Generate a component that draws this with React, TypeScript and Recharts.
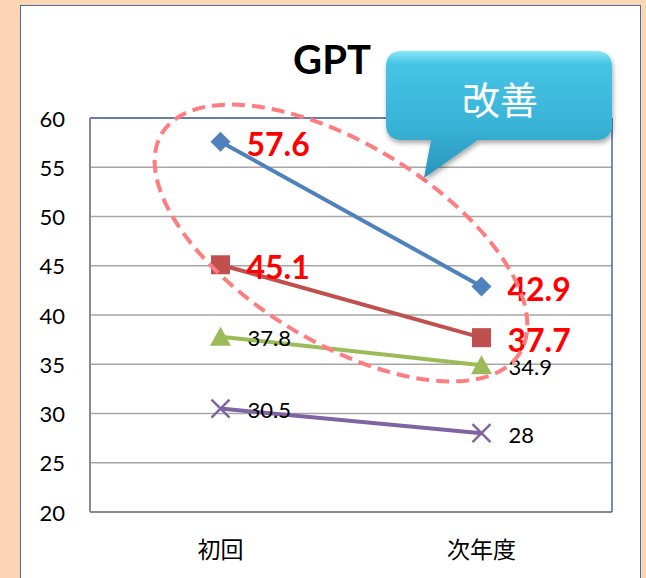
import React from 'react';
import { LineChart, Line, XAxis, YAxis, CartesianGrid, ReferenceLine, LabelList } from 'recharts';

const categories = ['初回', '次年度'];
const seriesBlue = [57.6, 42.9];
const seriesRed = [45.1, 37.7];
const seriesGreen = [37.8, 34.9];
const seriesPurple = [30.5, 28];
const yTicks = [20, 25, 30, 35, 40, 45, 50, 55, 60];
const titleText = 'GPT';
const calloutText = '改善';

const data = categories.map((c, i) => ({
  name: c,
  blue: seriesBlue[i],
  red: seriesRed[i],
  green: seriesGreen[i],
  purple: seriesPurple[i],
}));

const NUM_FONT = 'Lato, "Open Sans", sans-serif';
const CJK_FONT = '"Noto Sans CJK JP", "Noto Sans", sans-serif';

const C_BLUE = '#4F81BD';
const C_RED = '#C0504D';
const C_GREEN = '#9BBB59';
const C_PURPLE = '#8064A2';

const Diamond = (p: any) => {
  const { cx, cy } = p;
  if (cx == null || cy == null) return null;
  const h = 10;
  return <polygon key={`d${p.index}`} points={`${cx},${cy - h} ${cx + h},${cy} ${cx},${cy + h} ${cx - h},${cy}`} fill={C_BLUE} />;
};
const Square = (p: any) => {
  const { cx, cy } = p;
  if (cx == null || cy == null) return null;
  const h = 9.5;
  return <rect key={`s${p.index}`} x={cx - h} y={cy - h} width={h * 2} height={h * 2} fill={C_RED} />;
};
const Triangle = (p: any) => {
  const { cx, cy } = p;
  if (cx == null || cy == null) return null;
  return <polygon key={`t${p.index}`} points={`${cx},${cy - 10} ${cx + 10.5},${cy + 9} ${cx - 10.5},${cy + 9}`} fill={C_GREEN} />;
};
const Cross = (p: any) => {
  const { cx, cy } = p;
  if (cx == null || cy == null) return null;
  const h = 9;
  return (
    <g key={`x${p.index}`} stroke={C_PURPLE} strokeWidth={2.5}>
      <line x1={cx - h} y1={cy - h} x2={cx + h} y2={cy + h} />
      <line x1={cx - h} y1={cy + h} x2={cx + h} y2={cy - h} />
    </g>
  );
};

const bigLabel = (p: any) => {
  const { x, y, value } = p;
  return (
    <text x={x + 26} y={y + 2} fill="#FF0000" fontFamily={NUM_FONT} fontWeight={700} fontSize={32} dominantBaseline="central">
      {value}
    </text>
  );
};
const smallLabel = (p: any) => {
  const { x, y, value } = p;
  return (
    <text x={x + 27} y={y + 1} fill="#000" fontFamily={NUM_FONT} fontSize={22} dominantBaseline="central">
      {value}
    </text>
  );
};

const YTick = (p: any) => (
  <text x={p.x - 25} y={p.y} textAnchor="end" dominantBaseline="central" fontFamily={NUM_FONT} fontSize={22} fill="#000">
    {p.payload.value}
  </text>
);
const XTick = (p: any) => (
  <text x={p.x} y={p.y + 36} textAnchor="middle" dominantBaseline="central" fontFamily={CJK_FONT} fontSize={23} fill="#000">
    {p.payload.value}
  </text>
);

export default function App() {
  const calloutPath =
    'M402,51 H596 Q612,51 612,67 V124 Q612,140 596,140 H478 L424,178 L431,140 H402 Q386,140 386,124 V67 Q386,51 402,51 Z';
  return (
    <div style={{ position: 'fixed', left: 0, top: 0, width: 646, height: 578, background: '#FCD5B4', overflow: 'hidden' }}>
      <div
        style={{
          position: 'absolute',
          left: 20,
          top: 5,
          width: 619,
          height: 620,
          background: '#FFFFFF',
          border: '1.5px solid #4A6A9C',
        }}
      />
      <div style={{ position: 'absolute', left: 0, top: 0 }}>
        <LineChart width={646} height={578} data={data} margin={{ top: 118, right: 0, bottom: 36, left: 0 }}>
          <CartesianGrid horizontal vertical={false} stroke="#A6A6A6" strokeWidth={1.5} />
          <XAxis
            dataKey="name"
            height={30}
            padding={{ left: 130.5, right: 130.5 }}
            tickSize={0}
            tickMargin={0}
            tickLine={false}
            axisLine={{ stroke: '#8A8A8A', strokeWidth: 2 }}
            tick={<XTick />}
          />
          <YAxis
            width={90}
            domain={[20, 60]}
            ticks={yTicks}
            interval={0}
            tickSize={0}
            tickMargin={0}
            tickLine={false}
            axisLine={{ stroke: '#8A8A8A', strokeWidth: 2 }}
            tick={<YTick />}
          />
          <YAxis
            yAxisId="r"
            orientation="right"
            width={34}
            domain={[20, 60]}
            ticks={yTicks}
            tick={false}
            tickLine={false}
            axisLine={{ stroke: '#4A6A9C', strokeWidth: 1.5 }}
          />
          <ReferenceLine y={60} stroke="#4A6A9C" strokeWidth={1.5} />
          <Line dataKey="purple" stroke={C_PURPLE} strokeWidth={4} dot={Cross} activeDot={false} isAnimationActive={false}>
            <LabelList dataKey="purple" content={smallLabel} />
          </Line>
          <Line dataKey="green" stroke={C_GREEN} strokeWidth={4} dot={Triangle} activeDot={false} isAnimationActive={false}>
            <LabelList dataKey="green" content={smallLabel} />
          </Line>
          <Line dataKey="red" stroke={C_RED} strokeWidth={4} dot={Square} activeDot={false} isAnimationActive={false}>
            <LabelList dataKey="red" content={bigLabel} />
          </Line>
          <Line dataKey="blue" stroke={C_BLUE} strokeWidth={4} dot={Diamond} activeDot={false} isAnimationActive={false}>
            <LabelList dataKey="blue" content={bigLabel} />
          </Line>
        </LineChart>
      </div>
      <svg width={646} height={578} style={{ position: 'absolute', left: 0, top: 0, pointerEvents: 'none' }}>
        <defs>
          <linearGradient id="cg" x1="0" y1="0" x2="0" y2="1">
            <stop offset="0" stopColor="#8AE6FA" />
            <stop offset="0.1" stopColor="#46C4E6" />
            <stop offset="0.6" stopColor="#38B2D6" />
            <stop offset="1" stopColor="#2A93B8" />
          </linearGradient>
          <filter id="sh" x="-20%" y="-20%" width="140%" height="150%">
            <feDropShadow dx="1" dy="3" stdDeviation="2.5" floodColor="#000" floodOpacity="0.35" />
          </filter>
        </defs>
        <text x={332} y={59} textAnchor="middle" dominantBaseline="central" fontFamily={NUM_FONT} fontWeight={700} fontSize={40} fill="#000">
          {titleText}
        </text>
        <ellipse
          cx={341}
          cy={243}
          rx={210}
          ry={99}
          transform="rotate(31.5 341 243)"
          fill="none"
          stroke="#FF7C80"
          strokeWidth={4}
          strokeDasharray="13 7"
        />
        <path d={calloutPath} fill="url(#cg)" filter="url(#sh)" />
        <text x={500} y={97} textAnchor="middle" dominantBaseline="central" fontFamily={CJK_FONT} fontSize={38} fill="#FFFFFF">
          {calloutText}
        </text>
      </svg>
    </div>
  );
}
